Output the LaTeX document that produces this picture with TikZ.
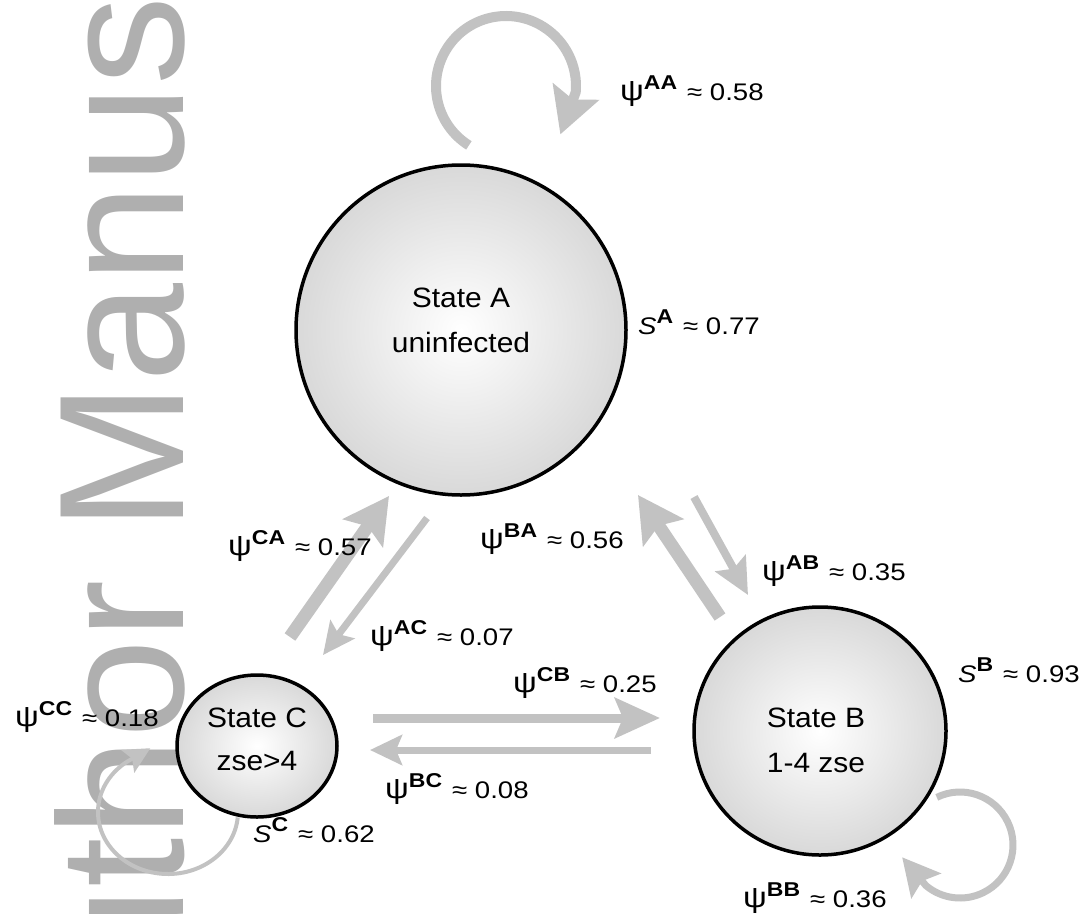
\documentclass[tikz,border=0pt]{standalone}
\usepackage{fontspec}
\setmainfont{Liberation Sans}
\usetikzlibrary{arrows.meta,shapes.geometric}
\definecolor{arr}{RGB}{194,194,194}
\definecolor{wmgray}{RGB}{175,175,175}
\newcommand{\suplab}[1]{\raisebox{11pt}{\fontsize{20}{20}\selectfont\bfseries #1}}
\newcommand{\bigpsi}{{\fontsize{29}{29}\selectfont ψ}}
\newcommand{\psilab}[2]{\scalebox{1.15}[1]{\bigpsi\suplab{#1}\hspace{2pt} ≈ #2}}
\newcommand{\survlab}[2]{\scalebox{1.15}[1]{{\itshape S}\suplab{#1}\hspace{2pt} ≈ #2}}
\newcommand{\sttext}[1]{\scalebox{1.07}[1]{#1}}
\tikzset{
  state/.style={ellipse, draw=black, line width=3.5pt, shading=radial, inner color=white, outer color=black!15, inner sep=0pt},
  stxt/.style={anchor=base, inner sep=0pt, font=\fontsize{28}{28}\selectfont},
  lab/.style={anchor=base west, inner sep=0pt, font=\fontsize{24}{24}\selectfont},
  flow/.style={draw=arr, line cap=butt},
}
\begin{document}
\begin{tikzpicture}[x=1pt,y=-1pt]
\useasboundingbox (0,0) rectangle (1089,913);
\begin{scope}
\clip (0,0) rectangle (1089,913);
\node[rotate=90, anchor=base west, inner sep=0pt, text=wmgray, font=\fontsize{178}{178}\selectfont] (wm) at (183,1105) {Author Manuscript};
\end{scope}

% coordinates
\coordinate (CAs) at (290,637); \coordinate (CAe) at (389,496);
\coordinate (ACs) at (427,518); \coordinate (ACe) at (323,655);
\coordinate (BAs) at (720,617); \coordinate (BAe) at (638,495);
\coordinate (ABs) at (694,497); \coordinate (ABe) at (748,595);
\coordinate (CBs) at (373,718); \coordinate (CBe) at (660,718);
\coordinate (BCs) at (651,750); \coordinate (BCe) at (370,750);
\coordinate (AAc) at (506,86);
\coordinate (BBc) at (960,845);
\coordinate (CCc) at (168,812);

% arrows
\draw[flow, line width=13pt, -{Stealth[length=45pt, width=48pt, inset=8pt]}] (CAs) -- (CAe);
\draw[flow, line width=7pt, -{Stealth[length=32pt, width=30pt, inset=6pt]}] (ACs) -- (ACe);
\draw[flow, line width=13pt, -{Stealth[length=45pt, width=48pt, inset=8pt]}] (BAs) -- (BAe);
\draw[flow, line width=8pt, -{Stealth[length=36pt, width=34pt, inset=6pt]}] (ABs) -- (ABe);
\draw[flow, line width=9pt, -{Stealth[length=45pt, width=40pt, inset=8pt]}] (CBs) -- (CBe);
\draw[flow, line width=7pt, -{Stealth[length=32pt, width=30pt, inset=6pt]}] (BCs) -- (BCe);
\draw[flow, line width=10pt, -{Stealth[length=45pt, width=48pt, inset=8pt]}] ([shift={(122:70)}]AAc) arc[start angle=122, end angle=365, radius=70] -- ++(110:45);
\draw[flow, line width=7pt, -{Stealth[length=37pt, width=38pt, inset=6pt]}] ([shift={(244:53)}]BBc) arc[start angle=244, end angle=490, radius=53] -- ++(230:37);
\draw[flow, line width=4pt, -{Stealth[length=26pt, width=26pt, inset=5pt]}] ([shift={(5:70 and 62)}]CCc) arc[start angle=5, end angle=235, x radius=70, y radius=62] -- ++(330:26);

% states
\node[state, minimum width=330pt, minimum height=330pt] (A) at (461,330) {};
\node[state, minimum width=252pt, minimum height=248pt] (B) at (820,731) {};
\node[state, minimum width=160pt, minimum height=142pt] (C) at (257,746) {};
\node[stxt] (A1) at (461,307) {\sttext{State A}};
\node[stxt] (A2) at (461,352) {\sttext{uninfected}};
\node[stxt] (B1) at (816,727) {\sttext{State B}};
\node[stxt] (B2) at (816,772) {\sttext{1-4 zse}};
\node[stxt] (C1) at (257,727) {\sttext{State C}};
\node[stxt] (C2) at (257,770) {\sttext{zse>4}};

% labels
\node[lab] (lAA) at (620,100) {\psilab{AA}{0.58}};
\node[lab] (lSA) at (638,334) {\survlab{A}{0.77}};
\node[lab] (lCA) at (228,555) {\psilab{CA}{0.57}};
\node[lab] (lBA) at (480,548) {\psilab{BA}{0.56}};
\node[lab] (lAB) at (762,580) {\psilab{AB}{0.35}};
\node[lab] (lAC) at (370,645) {\psilab{AC}{0.07}};
\node[lab] (lCB) at (513,692) {\psilab{CB}{0.25}};
\node[lab] (lSB) at (958,682) {\survlab{B}{0.93}};
\node[lab] (lCC) at (15,726) {\psilab{CC}{0.18}};
\node[lab] (lBC) at (385,798) {\psilab{BC}{0.08}};
\node[lab] (lSC) at (253,842) {\survlab{C}{0.62}};
\node[lab] (lBB) at (743,907) {\psilab{BB}{0.36}};
\end{tikzpicture}
\end{document}
